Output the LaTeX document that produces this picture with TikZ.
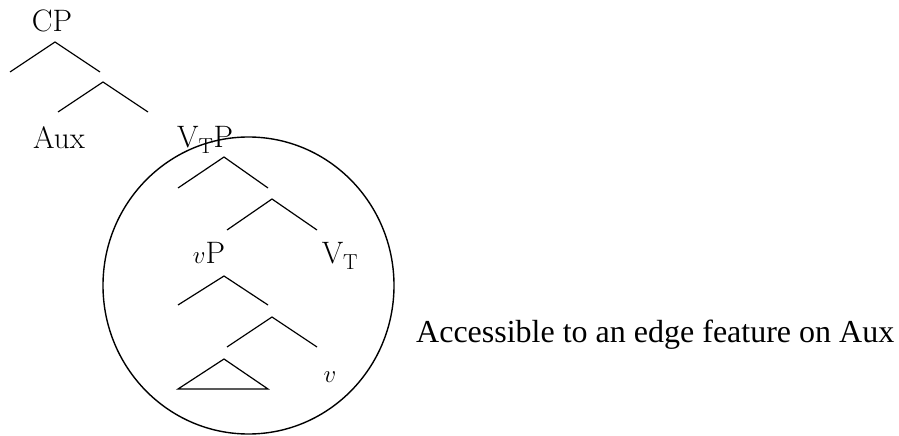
\documentclass[tikz,border=0pt]{standalone}
\usepackage{fontspec}
\newfontfamily\notefont{Liberation Serif}
\begin{document}
\begin{tikzpicture}[x=1pt,y=-1pt,
  lab/.style={inner sep=0pt,anchor=base,font=\fontsize{31}{36}\selectfont},
  br/.style={line width=1.2pt},
  ring/.style={line width=1.4pt}]
\useasboundingbox (0,0) rectangle (899,436);
% labels
\node[lab] (cp) at (52,32) {CP};
\node[lab] (aux) at (59,148) {Aux};
\node[lab] (vtp) at (205,147) {V$_{\mathrm{T}}$P};
\node[lab] (vp) at (209,263) {$v$P};
\node[lab] (vt) at (340,263) {V$_{\mathrm{T}}$};
\node[lab] (v) at (330,382) {$v$};
\node[anchor=base west,inner sep=0pt,font=\notefont\fontsize{32}{36}\selectfont] (note) at (416,342) {Accessible to an edge feature on Aux};
% branch coordinates
\coordinate (a1) at (55,42); \coordinate (a1l) at (10,72); \coordinate (a1r) at (100,72);
\coordinate (a2) at (103,82); \coordinate (a2l) at (58,112); \coordinate (a2r) at (148,112);
\coordinate (b1) at (224,157); \coordinate (b1l) at (178,188); \coordinate (b1r) at (268,188);
\coordinate (b2) at (272,199); \coordinate (b2l) at (227,230); \coordinate (b2r) at (317,230);
\coordinate (c1) at (224,276); \coordinate (c1l) at (178,305); \coordinate (c1r) at (268,305);
\coordinate (c2) at (272,317); \coordinate (c2l) at (227,347); \coordinate (c2r) at (317,347);
\coordinate (t1) at (224,359); \coordinate (t1l) at (178,389); \coordinate (t1r) at (268,389);
\draw[br] (a1l) -- (a1) -- (a1r);
\draw[br] (a2l) -- (a2) -- (a2r);
\draw[br] (b1l) -- (b1) -- (b1r);
\draw[br] (b2l) -- (b2) -- (b2r);
\draw[br] (c1l) -- (c1) -- (c1r);
\draw[br] (c2l) -- (c2) -- (c2r);
\draw[br] (t1l) -- (t1) -- (t1r) -- cycle;
% circle
\coordinate (ctr) at (248.5,285.5);
\draw[ring] (ctr) ellipse [x radius=145.5pt, y radius=148.5pt];
\end{tikzpicture}
\end{document}
